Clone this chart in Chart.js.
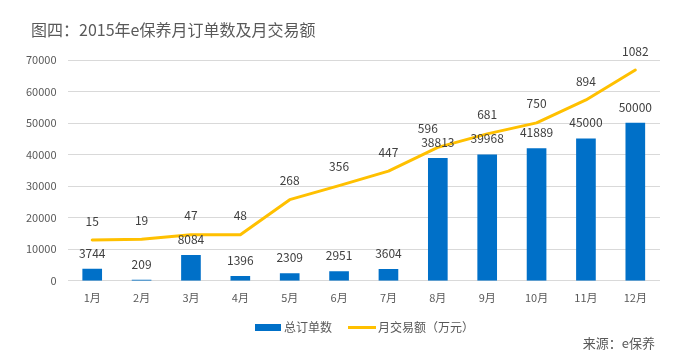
<!DOCTYPE html>
<html>
<head>
<meta charset="utf-8">
<script src="https://cdn.jsdelivr.net/npm/chart.js@4"></script>
<style>
html,body{margin:0;padding:0;background:#fff;}
#wrap{width:689px;height:356px;position:relative;}
</style>
</head>
<body>
<div id="wrap"><canvas id="c" width="689" height="356"></canvas></div>
<script>
const categories = ['1月','2月','3月','4月','5月','6月','7月','8月','9月','10月','11月','12月'];
const orders = [3744, 209, 8084, 1396, 2309, 2951, 3604, 38813, 39968, 41889, 45000, 50000];
const revenue = [15, 19, 47, 48, 268, 356, 447, 596, 681, 750, 894, 1082];
const yTicks = [0, 10000, 20000, 30000, 40000, 50000, 60000, 70000];
const seriesNames = ['总订单数', '月交易额（万元）'];
const titleText = '图四：2015年e保养月订单数及月交易额';
const sourceText = '来源：e保养';

const FONT = '"Noto Sans CJK SC", "Noto Sans", sans-serif';
const BLUE = '#0070C8';
const GOLD = '#FFC000';

const extras = {
  id: 'extras',
  afterDatasetsDraw(chart) {
    const ctx = chart.ctx;
    ctx.save();
    ctx.font = '12px ' + FONT;
    ctx.fillStyle = '#404040';
    ctx.textAlign = 'center';
    ctx.textBaseline = 'middle';
    const barMeta = chart.getDatasetMeta(0);
    barMeta.data.forEach((el, i) => {
      ctx.fillText(String(orders[i]), el.x, el.y - 16);
    });
    const lineMeta = chart.getDatasetMeta(1);
    lineMeta.data.forEach((el, i) => {
      const dx = i === 7 ? -10 : 0;
      ctx.fillText(String(revenue[i]), el.x + dx, el.y - 19);
    });
    ctx.restore();
  },
  afterDraw(chart) {
    const ctx = chart.ctx;
    ctx.save();
    ctx.font = '16px ' + FONT;
    ctx.fillStyle = '#595959';
    ctx.textAlign = 'left';
    ctx.textBaseline = 'middle';
    ctx.fillText(titleText, 31, 30);
    ctx.font = '12px ' + FONT;
    ctx.fillStyle = BLUE;
    ctx.fillRect(255, 324, 26, 7);
    ctx.fillStyle = '#595959';
    ctx.fillText(seriesNames[0], 284, 327.5);
    ctx.strokeStyle = GOLD;
    ctx.lineWidth = 3;
    ctx.beginPath();
    ctx.moveTo(348, 327.5);
    ctx.lineTo(376, 327.5);
    ctx.stroke();
    ctx.fillText(seriesNames[1], 378, 327.5);
    ctx.font = '13px ' + FONT;
    ctx.textAlign = 'right';
    ctx.fillText(sourceText, 655, 343);
    ctx.restore();
  }
};

new Chart(document.getElementById('c'), {
  data: {
    labels: categories,
    datasets: [
      {
        type: 'bar',
        label: seriesNames[0],
        data: orders,
        backgroundColor: BLUE,
        barThickness: 19,
        yAxisID: 'y',
        order: 2
      },
      {
        type: 'line',
        label: seriesNames[1],
        data: revenue,
        borderColor: GOLD,
        backgroundColor: GOLD,
        borderWidth: 3,
        pointRadius: 0,
        tension: 0,
        borderJoinStyle: 'round',
        borderCapStyle: 'round',
        yAxisID: 'y1',
        order: 1
      }
    ]
  },
  options: {
    responsive: false,
    animation: false,
    layout: { padding: { left: 15, right: 29, top: 60, bottom: 42 } },
    plugins: {
      legend: { display: false },
      title: { display: false },
      tooltip: { enabled: false }
    },
    scales: {
      x: {
        grid: { display: false, drawTicks: false },
        border: { display: false },
        ticks: { color: '#595959', font: { size: 11, family: FONT }, padding: 10 }
      },
      y: {
        min: 0,
        max: 70000,
        afterBuildTicks(axis) { axis.ticks = yTicks.map(v => ({ value: v })); },
        grid: { color: '#D9D9D9', lineWidth: 1, drawTicks: false },
        border: { display: false },
        ticks: { color: '#595959', font: { size: 11, family: FONT }, padding: 11,
                 callback: (v) => String(v) }
      },
      y1: {
        display: false,
        min: -241.5,
        max: 1145
      }
    }
  },
  plugins: [extras]
});
</script>
</body>
</html>
